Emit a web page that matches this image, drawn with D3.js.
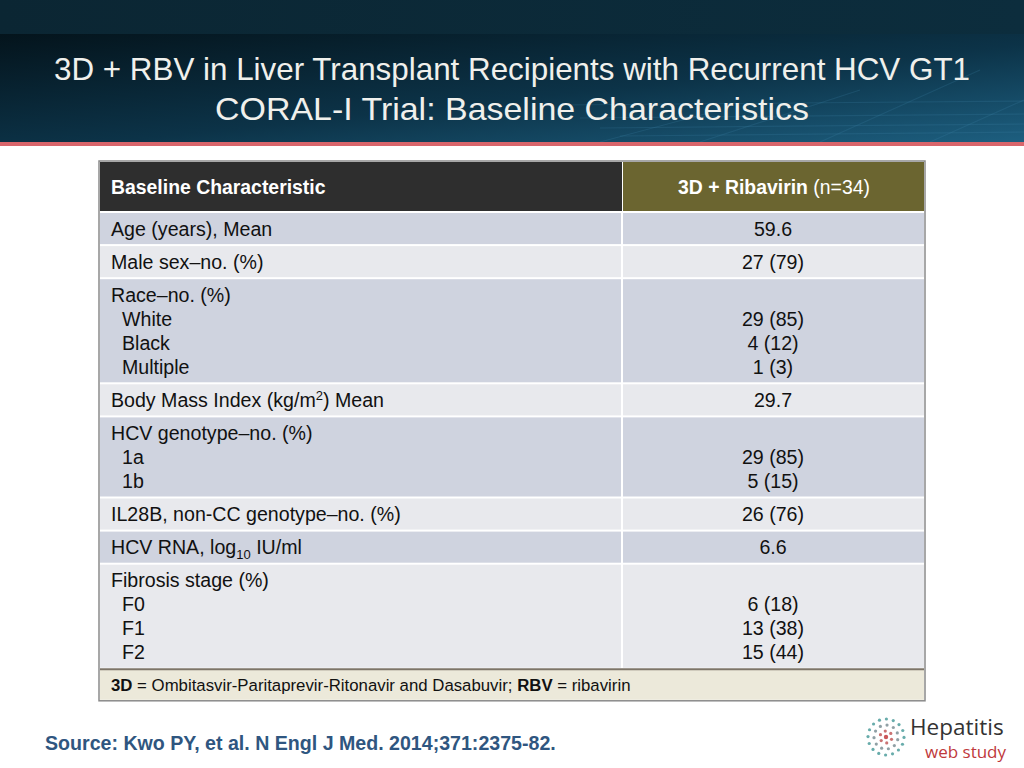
<!DOCTYPE html>
<html>
<head>
<meta charset="utf-8">
<script src="https://cdn.jsdelivr.net/npm/d3@7/dist/d3.min.js"></script>
<style>
  html, body { margin: 0; padding: 0; background: #ffffff; }
  svg { display: block; font-family: "Liberation Sans", Arial, Helvetica, sans-serif; }
</style>
</head>
<body>
<svg id="chart" width="1024" height="768"></svg>
<script>
// ---------------- DATA ----------------
const titleLines = ["3D + RBV in Liver Transplant Recipients with Recurrent HCV GT1",
                    "CORAL-I Trial: Baseline Characteristics"];
const headerLabel = "Baseline Characteristic";
const headerGroupBold = "3D + Ribavirin";
const headerGroupN = " (n=34)";
// ^ marks superscript, _ marks subscript
const characteristics = ["Age (years), Mean", "Male sex–no. (%)", "Race–no. (%)",
  "Body Mass Index (kg/m^2) Mean", "HCV genotype–no. (%)", "IL28B, non-CC genotype–no. (%)",
  "HCV RNA, log_10 IU/ml", "Fibrosis stage (%)"];
const subLabels = [[], [], ["White", "Black", "Multiple"], [], ["1a", "1b"], [], [], ["F0", "F1", "F2"]];
const values = [["59.6"], ["27 (79)"], ["29 (85)", "4 (12)", "1 (3)"], ["29.7"],
  ["29 (85)", "5 (15)"], ["26 (76)"], ["6.6"], ["6 (18)", "13 (38)", "15 (44)"]];
const footnoteParts = [["3D", true], [" = Ombitasvir-Paritaprevir-Ritonavir and Dasabuvir; ", false],
  ["RBV", true], [" = ribavirin", false]];
const sourceText = "Source: Kwo PY, et al. N Engl J Med. 2014;371:2375-82.";

// ---------------- LAYOUT ----------------
const svg = d3.select("#chart");
const W = 1024, H = 768;
const defs = svg.append("defs");

// header band
const g1 = defs.append("linearGradient").attr("id", "band").attr("x1", 0).attr("y1", 0).attr("x2", 1).attr("y2", 1);
g1.append("stop").attr("offset", "0%").attr("stop-color", "#04141c");
g1.append("stop").attr("offset", "55%").attr("stop-color", "#0c3348");
g1.append("stop").attr("offset", "100%").attr("stop-color", "#1d5f80");
const g0 = defs.append("linearGradient").attr("id", "topband").attr("x1", 0).attr("y1", 0).attr("x2", 1).attr("y2", 0);
g0.append("stop").attr("offset", "0%").attr("stop-color", "#0b2633");
g0.append("stop").attr("offset", "100%").attr("stop-color", "#0c2d3d");

svg.append("rect").attr("x", 0).attr("y", 0).attr("width", W).attr("height", 34).attr("fill", "url(#topband)");
svg.append("rect").attr("x", 0).attr("y", 34).attr("width", W).attr("height", 109).attr("fill", "url(#band)");
// faint grid decoration
const grid = svg.append("g").attr("stroke", "#3f86aa").attr("stroke-opacity", 0.22).attr("stroke-width", 1.2);
[105, 118, 128, 136].forEach((y, i) => grid.append("line").attr("x1", 560 + i * 20).attr("x2", W).attr("y1", y).attr("y2", y - 4));
[[700, 142, 860, 90], [820, 142, 980, 70], [930, 142, 1024, 100], [600, 142, 720, 110]].forEach(d =>
  grid.append("line").attr("x1", d[0]).attr("y1", d[1]).attr("x2", d[2]).attr("y2", d[3]));
svg.append("rect").attr("x", 0).attr("y", 142).attr("width", W).attr("height", 4).attr("fill", "#d9656b");

const titleWidths = [916, 594];
svg.append("g").selectAll("text").data(titleLines).join("text")
  .attr("x", 512).attr("y", (d, i) => 80 + i * 40)
  .attr("text-anchor", "middle").attr("fill", "#f0f0ec")
  .attr("font-size", 30.5)
  .attr("textLength", (d, i) => titleWidths[i]).attr("lengthAdjust", "spacingAndGlyphs")
  .text(d => d);

// ---------------- TABLE ----------------
const left = 100, right = 924, split = 622;
const headTop = 162, headH = 49, bodyTop = 213, gap = 2;
const lineH = 24, pad = 7.1;
const fs = 19.6;

const nLines = characteristics.map((c, i) => 1 + subLabels[i].length);
const tops = [];
let acc = bodyTop;
nLines.forEach(n => { tops.push(acc); acc += n * lineH + pad + gap; });
const rowsBottom = acc - gap;
const footTop = rowsBottom + 2, footH = 30;

const rowFill = i => (i % 2 === 0 ? "#cfd3df" : "#e8e9ed");

// outer border
svg.append("rect").attr("x", left - 1).attr("y", headTop - 1)
  .attr("width", right - left + 2).attr("height", footTop + footH - headTop + 2)
  .attr("fill", "#ffffff").attr("stroke", "#8a8a8a").attr("stroke-width", 1.5);

// header cells
svg.append("rect").attr("x", left).attr("y", headTop).attr("width", split - left).attr("height", headH).attr("fill", "#2e2e2e");
svg.append("rect").attr("x", split + 1).attr("y", headTop).attr("width", right - split - 1).attr("height", headH).attr("fill", "#6b6530");
svg.append("text").attr("x", 111).attr("y", headTop + headH / 2 + 7).attr("fill", "#ffffff")
  .attr("font-weight", "bold").attr("font-size", 19.4).text(headerLabel);
const ht = svg.append("text").attr("x", (split + right) / 2 + 1).attr("y", headTop + headH / 2 + 7)
  .attr("fill", "#ffffff").attr("font-size", 19.4).attr("text-anchor", "middle");
ht.append("tspan").attr("font-weight", "bold").text(headerGroupBold);
ht.append("tspan").text(headerGroupN);

// body rows
const rows = svg.append("g").selectAll("g").data(characteristics).join("g");
rows.append("rect").attr("x", left).attr("y", (d, i) => tops[i]).attr("width", split - left - 1)
  .attr("height", (d, i) => nLines[i] * lineH + pad).attr("fill", (d, i) => rowFill(i));
rows.append("rect").attr("x", split + 1).attr("y", (d, i) => tops[i]).attr("width", right - split - 1)
  .attr("height", (d, i) => nLines[i] * lineH + pad).attr("fill", (d, i) => rowFill(i));

function richText(sel, str) {
  const parts = str.split(/(\^\d+|_\d+)/).filter(s => s.length);
  let pending = 0;
  parts.forEach(p => {
    if (p[0] === "^") {
      sel.append("tspan").attr("font-size", 13).attr("dy", pending - 7).text(p.slice(1));
      pending = 7;
    } else if (p[0] === "_") {
      sel.append("tspan").attr("font-size", 13).attr("dy", pending + 5).text(p.slice(1));
      pending = -5;
    } else {
      sel.append("tspan").attr("dy", pending).text(p);
      pending = 0;
    }
  });
}
const baseY = i => tops[i] + 22.5;

rows.each(function (d, i) {
  const g = d3.select(this);
  const t = g.append("text").attr("x", 111).attr("y", baseY(i)).attr("font-size", fs).attr("fill", "#111111");
  richText(t, d);
  subLabels[i].forEach((s, j) => {
    g.append("text").attr("x", 122).attr("y", baseY(i) + (j + 1) * lineH).attr("font-size", fs)
      .attr("fill", "#111111").text(s);
  });
  const off = values[i].length === 1 ? 0 : 1;
  values[i].forEach((v, j) => {
    g.append("text").attr("x", 773).attr("y", baseY(i) + (j + off) * lineH).attr("font-size", fs)
      .attr("text-anchor", "middle").attr("fill", "#111111").text(v);
  });
});

// footnote row
svg.append("rect").attr("x", left).attr("y", footTop).attr("width", right - left).attr("height", footH).attr("fill", "#ece9da");
svg.append("line").attr("x1", left).attr("x2", right).attr("y1", footTop - 0.5).attr("y2", footTop - 0.5)
  .attr("stroke", "#7d7568").attr("stroke-width", 2);
const ft = svg.append("text").attr("x", 111).attr("y", footTop + 21).attr("font-size", 16.8).attr("fill", "#111111");
footnoteParts.forEach(p => ft.append("tspan").attr("font-weight", p[1] ? "bold" : "normal").text(p[0]));

// source
svg.append("text").attr("x", 45).attr("y", 750).attr("font-size", 19.6).attr("font-weight", "bold")
  .attr("fill", "#2f5680").text(sourceText);

// logo
const logo = svg.append("g").attr("transform", "translate(886,737)");
const ringCounts = [1, 6, 11, 16];
const ringColors = ["#c23a3c", "#c25a5a", "#7d8f95", "#4e9d9c"];
ringCounts.forEach((n, r) => {
  for (let k = 0; k < n; k++) {
    const a = (k / n) * 2 * Math.PI + r * 0.4;
    logo.append("circle").attr("cx", r * 6 * Math.cos(a)).attr("cy", r * 6 * Math.sin(a))
      .attr("r", r === 0 ? 2.2 : 1.6).attr("fill", ringColors[r]).attr("opacity", 0.85);
  }
});
svg.append("text").attr("x", 910).attr("y", 735).attr("font-family", "'Open Sans', 'DejaVu Sans', sans-serif")
  .attr("font-size", 22.5).attr("fill", "#333333").text("Hepatitis");
svg.append("text").attr("x", 925).attr("y", 758).attr("font-family", "'Open Sans', 'DejaVu Sans', sans-serif")
  .attr("font-size", 17).attr("fill", "#c0393b").text("web study");
</script>
</body>
</html>
